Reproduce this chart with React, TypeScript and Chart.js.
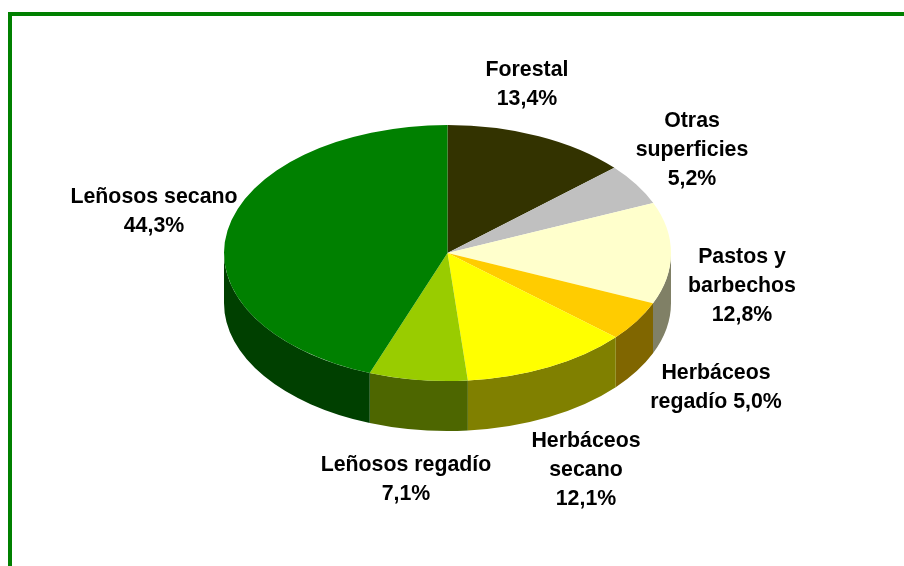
import React, { useEffect, useRef } from "react";
import { Chart, registerables } from "chart.js";

Chart.register(...registerables);

const categories = ["Forestal", "Otras superficies", "Pastos y barbechos", "Herbáceos regadío", "Herbáceos secano", "Leñosos regadío", "Leñosos secano"];
const values = [13.4, 5.2, 12.8, 5.0, 12.1, 7.1, 44.3];
const topColors = ["#333300", "#C0C0C0", "#FFFFCC", "#FFCC00", "#FFFF00", "#99CC00", "#008000"];
const sideColors = ["#1A1A00", "#606060", "#808066", "#806600", "#808000", "#4D6600", "#004000"];
const labelLines = [
  ["Forestal", "13,4%"],
  ["Otras", "superficies", "5,2%"],
  ["Pastos y", "barbechos", "12,8%"],
  ["Herbáceos", "regadío 5,0%"],
  ["Herbáceos", "secano", "12,1%"],
  ["Leñosos regadío", "7,1%"],
  ["Leñosos secano", "44,3%"],
];
const labelCentres = [
  [527, 70],
  [692, 121],
  [742, 257],
  [716, 373],
  [586, 441],
  [406, 465],
  [154, 197],
];

const SQUASH = 128 / 223.5;
const DEPTH = 50;
const LINE_HEIGHT = 29;

const pie3d = {
  id: "pie3d",
  beforeDatasetDraw(chart: any) {
    const { ctx, chartArea } = chart;
    const cy = (chartArea.top + chartArea.bottom) / 2;
    const arcs = chart.getDatasetMeta(0).data;
    ctx.save();
    arcs.forEach((arc: any, i: number) => {
      const { x, y, startAngle, endAngle, outerRadius } = arc.getProps(["x", "y", "startAngle", "endAngle", "outerRadius"]);
      const from = Math.max(startAngle, 0);
      const to = Math.min(endAngle, Math.PI);
      if (to <= from) return;
      const ry = outerRadius * SQUASH;
      ctx.beginPath();
      ctx.ellipse(x, y, outerRadius, ry, 0, from, to, false);
      ctx.ellipse(x, y + DEPTH, outerRadius, ry, 0, to, from, true);
      ctx.closePath();
      ctx.fillStyle = sideColors[i];
      ctx.fill();
    });
    ctx.setTransform(1, 0, 0, SQUASH, 0, cy - SQUASH * cy);
  },
  afterDatasetDraw(chart: any) {
    chart.ctx.restore();
  },
  afterDraw(chart: any) {
    const { ctx } = chart;
    ctx.save();
    ctx.font = 'bold 21.33px "Liberation Sans"';
    ctx.fillStyle = "#000000";
    ctx.textAlign = "center";
    ctx.textBaseline = "middle";
    labelLines.forEach((lines, i) => {
      lines.forEach((line, j) => {
        ctx.fillText(line, labelCentres[i][0], labelCentres[i][1] + j * LINE_HEIGHT);
      });
    });
    ctx.restore();
  },
};

export default function App() {
  const ref = useRef<HTMLCanvasElement>(null);
  useEffect(() => {
    document.body.style.margin = "0";
    document.body.style.background = "#FFFFFF";
    const chart = new Chart(ref.current!, {
      type: "pie",
      data: {
        labels: categories,
        datasets: [{ data: values, backgroundColor: topColors, borderWidth: 0, clip: false } as any],
      },
      options: {
        animation: false,
        responsive: false,
        layout: { padding: { left: 224, right: 233, top: 29.5, bottom: 89.5 } },
        plugins: { legend: { display: false }, tooltip: { enabled: false } },
      },
      plugins: [pie3d],
    } as any);
    return () => chart.destroy();
  }, []);
  return (
    <div style={{ position: "relative", width: 904, height: 566, overflow: "hidden", background: "#FFFFFF" }}>
      <canvas ref={ref} width={904} height={566} style={{ display: "block" }} />
      <div style={{ position: "absolute", left: 8, top: 12, width: 900, height: 560, borderLeft: "4px solid #008000", borderTop: "4px solid #008000" }} />
    </div>
  );
}
